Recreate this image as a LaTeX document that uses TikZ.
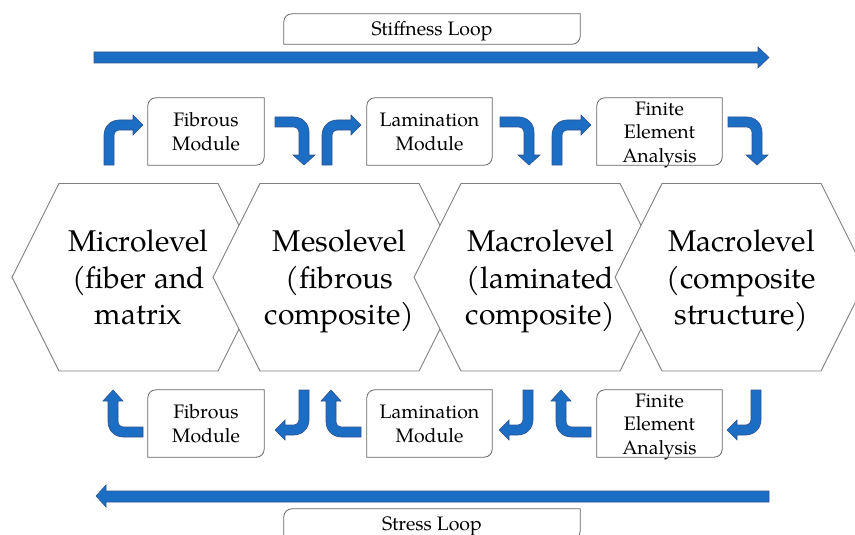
\documentclass[tikz,border=0pt]{standalone}
\usepackage{fontspec}
\setmainfont{TeX Gyre Pagella}
\definecolor{arrowblue}{RGB}{28,110,196}
\definecolor{arrowedge}{RGB}{47,82,143}
\definecolor{hexgray}{RGB}{128,128,128}
\definecolor{boxgray}{RGB}{100,100,100}
\newcommand\mytop[1]{\rule{0pt}{#1}}
\newcommand\mybot[1]{\rule[-#1]{0pt}{#1}}
\tikzset{
  blockarrow/.style={fill=arrowblue, draw=arrowedge, line width=0.6pt, line join=miter},
  hexline/.style={draw=hexgray, fill=white, line width=0.9pt},
  boxline/.style={draw=boxgray, line width=0.8pt},
  hextext/.style={align=center, font=\fontsize{30}{36.5}\selectfont, inner sep=0pt},
  smalltext/.style={align=center, font=\fontsize{19.5}{23.5}\selectfont, inner sep=0pt},
  modtext/.style={smalltext, minimum height=67pt},
  looptext/.style={smalltext, minimum width=296pt, minimum height=30pt},
}
\newcommand\diagframe[1]{\draw[boxline] (#1.west) [rounded corners=8pt] |- (#1.north) [sharp corners] -| (#1.east) [rounded corners=8pt] |- (#1.south) [sharp corners] -| (#1.west) -- cycle;}
\newcommand\hexat[1]{\draw[hexline] ([shift={(-126.5,0)}]#1) -- ([shift={(-79.5,-93.75)}]#1) -- ([shift={(79.5,-93.75)}]#1) -- ([shift={(126.5,0)}]#1) -- ([shift={(79.5,93.75)}]#1) -- ([shift={(-79.5,93.75)}]#1) -- cycle;}
% up then right
\newcommand\urbarrow[2]{\draw[blockarrow,shift={(#1,#2)}] (0,0) -- (0,-30) arc[start angle=180,end angle=270,radius=15] -- (29,-45) -- (29,-50) -- (39,-40) -- (29,-30) -- (29,-35) -- (15,-35) arc[start angle=270,end angle=180,radius=5] -- (10,0) -- cycle;}
% right then down
\newcommand\rdbarrow[2]{\draw[blockarrow,shift={(#1,#2)}] (0,0) -- (19,0) arc[start angle=270,end angle=360,radius=15] -- (34,38) -- (40,38) -- (29,48) -- (18,38) -- (24,38) -- (24,15) arc[start angle=0,end angle=-90,radius=5] -- (0,10) -- cycle;}
% left then up
\newcommand\ulbarrow[2]{\draw[blockarrow,shift={(#1,#2)}] (0,0) -- (-20,0) arc[start angle=90,end angle=180,radius=15] -- (-35,-36) -- (-40,-36) -- (-30,-47) -- (-20,-36) -- (-25,-36) -- (-25,-15) arc[start angle=180,end angle=90,radius=5] -- (0,-10) -- cycle;}
% down then left
\newcommand\dlbarrow[2]{\draw[blockarrow,shift={(#1,#2)}] (0,0) -- (-10,0) -- (-10,30) arc[start angle=0,end angle=90,radius=5] -- (-24,35) -- (-24,30) -- (-34,40) -- (-24,50) -- (-24,45) -- (-15,45) arc[start angle=90,end angle=0,radius=15] -- cycle;}
\begin{document}
\begin{tikzpicture}[x=1pt,y=-1pt]
\useasboundingbox (0,0) rectangle (855,535);
% hexagon centres
\coordinate (h1) at (138.5,277.25);
\coordinate (h2) at (339.5,277.25);
\coordinate (h3) at (540.5,277.25);
\coordinate (h4) at (741.5,277.25);
\hexat{h1}
\hexat{h2}
\hexat{h3}
\hexat{h4}
\node[hextext] (micro) at (h1) {\mytop{32.8pt}Microlevel\\(fiber and\\matrix\mybot{11pt}};
\node[hextext] (meso) at (h2) {\mytop{32.8pt}Mesolevel\\(fibrous\\composite)\mybot{11pt}};
\node[hextext] (macroA) at (h3) {\mytop{32.8pt}Macrolevel\\(laminated\\composite)\mybot{11pt}};
\node[hextext] (macroB) at (h4) {\mytop{32.8pt}Macrolevel\\(composite\\structure)\mybot{11pt}};
% loop labels
\node[looptext] (stiff) at (432,29) {\mytop{20pt}Stiffness Loop\mybot{7pt}};
\diagframe{stiff}
\node[looptext] (stress) at (432,524) {\mytop{20pt}Stress Loop\mybot{7pt}};
\diagframe{stress}
% big arrows
\draw[blockarrow] (94,52) -- (758,52) -- (758,47) -- (769,57.5) -- (758,68) -- (758,63) -- (94,63) -- cycle;
\draw[blockarrow] (769,491) -- (106,491) -- (106,485) -- (96,496) -- (106,507) -- (106,502) -- (769,502) -- cycle;
% top module boxes
\node[modtext, minimum width=116pt] (fibT) at (206,131.5) {\mytop{21pt}Fibrous\\Module\mybot{7pt}};
\node[modtext, minimum width=125pt] (lamT) at (429.5,131.5) {\mytop{21pt}Lamination\\Module\mybot{7pt}};
\node[modtext, minimum width=125pt] (feaT) at (659.5,131.5) {};
\node[smalltext] (feaTlabel) at ([shift={(0,3)}]feaT.center) {\mytop{15pt}Finite\\Element\\Analysis\mybot{7pt}};
\diagframe{fibT}
\diagframe{lamT}
\diagframe{feaT}
% bottom module boxes
\node[modtext, minimum width=116pt] (fibB) at (206,423.5) {\mytop{21pt}Fibrous\\Module\mybot{7pt}};
\node[modtext, minimum width=125pt] (lamB) at (429.5,423.5) {\mytop{21pt}Lamination\\Module\mybot{7pt}};
\node[modtext, minimum width=125pt] (feaB) at (659.5,423.5) {};
\node[smalltext] (feaBlabel) at ([shift={(0,3)}]feaB.center) {\mytop{15pt}Finite\\Element\\Analysis\mybot{7pt}};
\diagframe{fibB}
\diagframe{lamB}
\diagframe{feaB}
% top bent arrows
\urbarrow{104}{165}
\urbarrow{322}{165}
\urbarrow{552}{165}
\rdbarrow{275}{117}
\rdbarrow{500}{117}
\rdbarrow{728}{117}
% bottom bent arrows
\ulbarrow{143}{437}
\ulbarrow{361}{437}
\ulbarrow{591}{437}
\dlbarrow{309}{390}
\dlbarrow{533}{390}
\dlbarrow{761}{390}
\end{tikzpicture}
\end{document}
